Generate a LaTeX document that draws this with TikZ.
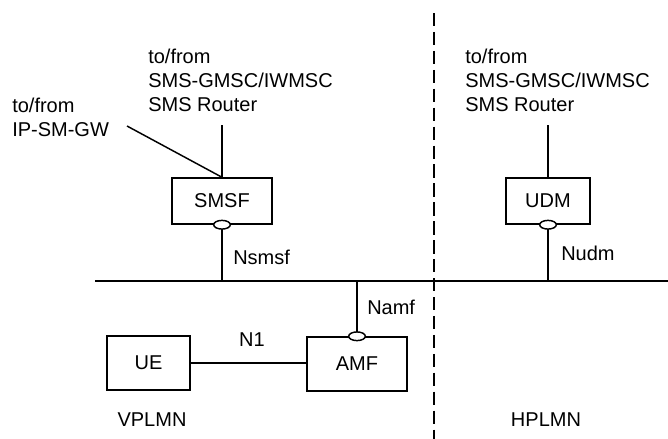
\documentclass[tikz,border=0pt]{standalone}
\usepackage{fontspec}
\setmainfont{Liberation Sans}
\usetikzlibrary{positioning,shapes.geometric}

\tikzset{
	nfbox/.style={draw, line width=1.1pt, inner sep=0pt},
	port/.style={draw, fill=white, ellipse, line width=1.1pt, minimum width=12.5pt, minimum height=6.5pt, inner sep=0pt},
	lbl/.style={inner sep=0pt, align=left, anchor=west},
	link/.style={line width=1.1pt}
}

\begin{document}
\begin{tikzpicture}[x=0.75pt, y=-0.75pt, font=\fontsize{15}{18}\selectfont]
			%%%%% START %%%%%
			\useasboundingbox (0, 0) rectangle (668, 439);
			
			\draw[line width=2pt, dash pattern=on 10pt off 4.2pt] (434, 13) -- (434, 439);
			
			\coordinate (busL) at (95, 281);
			\coordinate (busR) at (668, 281);
			\draw[link] (busL) -- (busR);
			
			\node[nfbox, minimum width=75pt, minimum height=34.5pt] (smsf) at (222, 201) {SMSF};
			\node[nfbox, minimum width=63pt, minimum height=34.5pt] (udm) at (548, 201) {UDM};
			\node[nfbox, minimum width=75pt, minimum height=40.5pt] (amf) at (357, 364) {AMF};
			\node[nfbox, minimum width=62pt, minimum height=40.5pt] (ue) at (148.5, 363) {UE};
			
			\node[lbl] (smsfext) at (148, 80) {to/from\\SMS-GMSC/IWMSC\\SMS Router};
			\node[lbl] (udmext) at (465, 80) {to/from\\SMS-GMSC/IWMSC\\SMS Router};
			\node[lbl, align=left] (ipsmgw) at (12, 117) {to/from\\IP-SM-GW};
			
			\coordinate (smsfTop) at (222, 125);
			\coordinate (udmTop) at (548, 125);
			\coordinate (ipEnd) at (127, 126);
			\draw[link] (smsfTop) -- (smsf.north);
			\draw[link] (ipEnd) -- (smsf.north);
			\draw[link] (udmTop) -- (udm.north);
			
			\draw[link] (smsf.south) -- (smsf.south |- busL);
			\draw[link] (udm.south) -- (udm.south |- busL);
			\draw[link] (amf.north) -- (amf.north |- busL);
			\draw[link] (ue.east) -- (ue.east -| amf.west);
			
			\node[port] (smsfport) at (smsf.south) {};
			\node[port] (udmport) at (udm.south) {};
			\node[port] (amfport) at (amf.north) {};
			
			\node[lbl] (nsmsf) at (233, 257) {Nsmsf};
			\node[lbl] (nudm) at (561, 253) {Nudm};
			\node[lbl] (namf) at (367, 307) {Namf};
			\node[inner sep=0pt] (n1) at (252, 340) {N1};
			
			\node[inner sep=0pt] (vplmn) at (152, 420) {VPLMN};
			\node[inner sep=0pt] (hplmn) at (546, 420) {HPLMN};
			%%%%% END %%%%%
\end{tikzpicture}
\end{document}
